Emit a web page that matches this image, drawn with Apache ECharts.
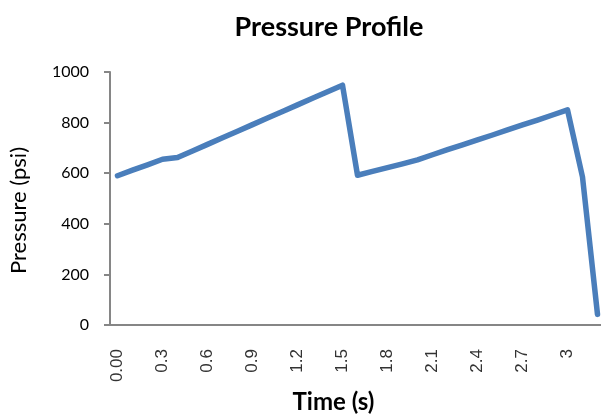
<!DOCTYPE html>
<html>
<head>
<meta charset="utf-8">
<style>
  html, body { margin: 0; padding: 0; background: #fff; }
  #chart { width: 601px; height: 417px; }
</style>
<script src="https://cdn.jsdelivr.net/npm/echarts@6/dist/echarts.min.js"></script>
</head>
<body>
<div id="chart"></div>
<script>
// Time samples (s), every 0.1 s
const timeCategories = [
  '0.00', '0.1', '0.2', '0.3', '0.4', '0.5', '0.6', '0.7', '0.8', '0.9',
  '1', '1.1', '1.2', '1.3', '1.4', '1.5', '1.6', '1.7', '1.8', '1.9',
  '2', '2.1', '2.2', '2.3', '2.4', '2.5', '2.6', '2.7', '2.8', '2.9',
  '3', '3.1', '3.2'
];

// Pressure readings (psi)
const pressure = [
  590, 612, 633, 655, 662, 688, 714, 740, 766, 792,
  818, 844, 870, 896, 922, 948, 592, 607, 622, 637,
  653, 673, 693, 712, 732, 751, 771, 791, 810, 830,
  850, 585, 42
];

const yTicks = { min: 0, max: 1000, step: 200 };

const axisGray = '#868686';
const uiFont = 'Lato, "Open Sans", "DejaVu Sans", sans-serif';

const chart = echarts.init(document.getElementById('chart'), null, { renderer: 'canvas' });

chart.setOption({
  animation: false,
  backgroundColor: '#ffffff',
  title: {
    text: 'Pressure Profile',
    left: 324,
    top: 9,
    textAlign: 'center',
    textStyle: { fontFamily: uiFont, fontWeight: 'bold', fontSize: 27, color: '#000' }
  },
  grid: {
    left: 110, right: -4, top: 72, bottom: 92,
    containLabel: false,
    outerBoundsMode: 'none'
  },
  xAxis: {
    type: 'category',
    data: timeCategories,
    boundaryGap: true,
    name: 'Time (s)',
    nameLocation: 'middle',
    nameGap: 63,
    nameTextStyle: {
      fontFamily: uiFont, fontWeight: 'bold', fontSize: 24, color: '#000',
      padding: [0, 48, 0, 0]
    },
    axisLine: { show: true, lineStyle: { color: axisGray, width: 2 } },
    axisTick: { show: false },
    axisLabel: {
      interval: 2,
      rotate: 90,
      margin: 24,
      fontFamily: '"Liberation Sans", Arial, sans-serif',
      fontSize: 17,
      color: '#333'
    },
    splitLine: { show: false }
  },
  yAxis: {
    type: 'value',
    min: yTicks.min,
    max: yTicks.max,
    interval: yTicks.step,
    name: 'Pressure (psi)',
    nameLocation: 'middle',
    nameGap: 80,
    nameRotate: 90,
    nameTextStyle: {
      fontFamily: uiFont, fontSize: 22, color: '#000',
      padding: [0, 24, 0, 0]
    },
    axisLine: { show: true, lineStyle: { color: axisGray, width: 2 } },
    axisTick: { show: true, inside: false, length: 6, lineStyle: { color: axisGray, width: 2 } },
    axisLabel: {
      margin: 21, fontFamily: uiFont, fontSize: 16, color: '#000',
      formatter: (v) => String(v)
    },
    splitLine: { show: false }
  },
  series: [{
    type: 'line',
    data: pressure,
    showSymbol: false,
    symbol: 'none',
    lineStyle: { color: '#4a7ebb', width: 5.5, cap: 'round', join: 'round' },
    clip: false
  }]
});
</script>
</body>
</html>
